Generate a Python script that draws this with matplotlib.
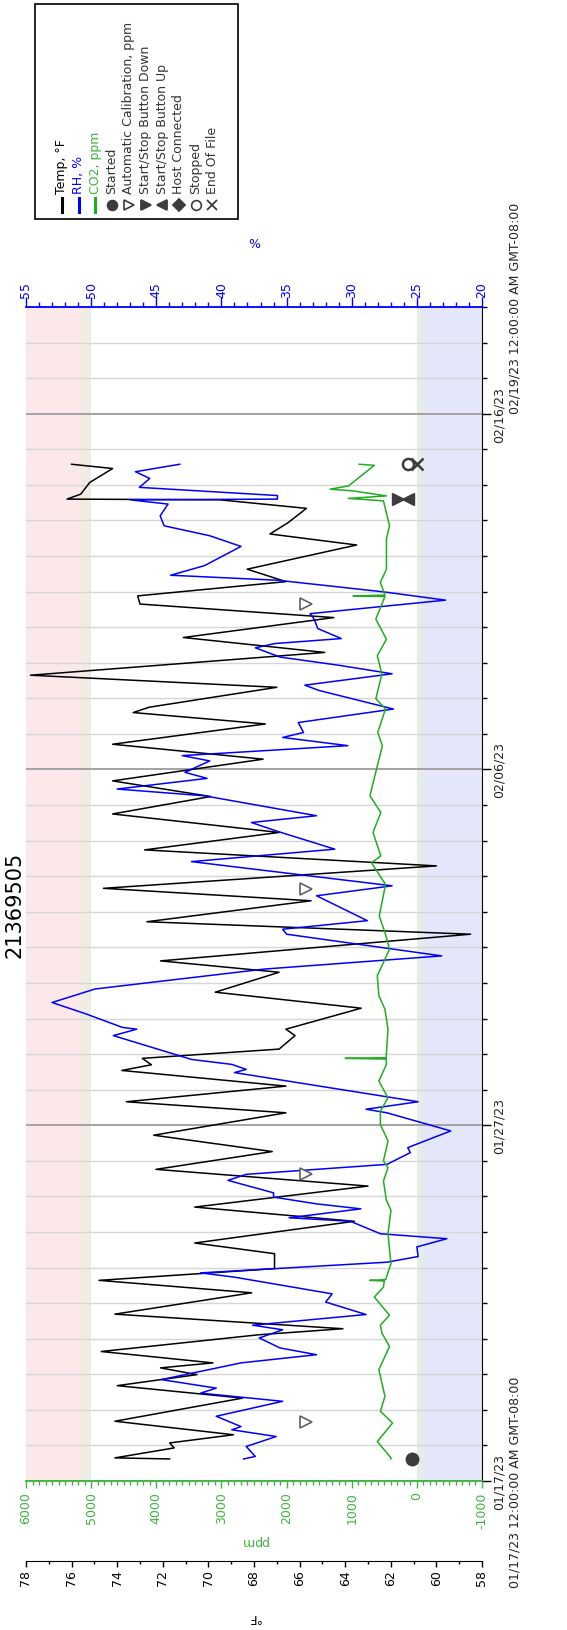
import datetime as dt
import matplotlib
matplotlib.use("Agg")
import matplotlib.pyplot as plt
import matplotlib.transforms as mtransforms
from matplotlib.lines import Line2D
from matplotlib.patches import Rectangle
from matplotlib.ticker import MultipleLocator

plt.rcParams["font.family"] = ["DejaVu Sans"]
plt.rcParams["axes.unicode_minus"] = False

# Logger 21369505 -- times are days after 01/17/23 00:00 (GMT-08:00)
START = dt.datetime(2023, 1, 17)
N_DAYS = 33
SERIAL = "21369505"

temp_days = [0.62, 0.65, 0.93, 1.07, 1.30, 1.68, 2.33, 2.68, 2.99, 3.18, 3.32, 3.64,
             4.11, 4.28, 4.69, 5.29, 5.64, 5.97, 6.39, 6.69, 7.30, 7.70, 7.94, 8.29,
             8.76, 9.26, 9.72, 10.35, 10.66, 11.10, 11.54, 11.70, 11.88, 12.14, 12.52,
             12.70, 13.29, 13.74, 14.30, 14.62, 15.37, 15.72, 16.31, 16.66, 17.29,
             17.74, 18.23, 18.75, 19.24, 19.68, 20.29, 20.71, 21.28, 21.60, 21.75,
             22.31, 22.65, 23.29, 23.71, 24.27, 24.65, 24.88, 25.28, 25.63, 26.31,
             26.62, 26.94, 27.34, 27.58, 27.60, 27.74, 28.07, 28.46, 28.58]
temp_f = [71.7, 74.1, 71.5, 71.7, 68.9, 74.1, 68.5, 74.0, 70.5, 72.1, 69.8, 74.7,
          67.8, 64.1, 74.1, 68.1, 74.8, 67.1, 67.1, 70.6, 63.6, 70.6, 67.5, 63.0,
          72.3, 67.2, 72.4, 66.6, 73.6, 66.6, 73.8, 72.5, 72.9, 66.9, 66.2,
          66.6, 63.3, 69.7, 66.9, 72.1, 58.5, 72.7, 65.5, 74.6, 60.0,
          72.8, 66.9, 74.2, 69.9, 74.2, 67.6, 74.2, 67.5, 73.3, 72.6,
          67.0, 77.8, 64.9, 71.1, 64.5, 73.0, 73.1, 66.6, 68.3, 63.5,
          67.3, 66.5, 65.7, 69.5, 76.2, 75.6, 75.2, 74.2, 76.0]

rh_days = [0.62, 0.69, 0.97, 1.25, 1.44, 1.53, 1.82, 2.24, 2.47, 2.61, 2.85, 3.32,
           3.55, 3.74, 4.02, 4.16, 4.25, 4.38, 4.68, 5.03, 5.26, 5.73, 5.85, 6.15,
           6.31, 6.58, 6.81, 6.95, 7.30, 7.40, 7.65, 7.79, 7.98, 8.10, 8.45, 8.62,
           8.90, 9.23, 9.37, 9.57, 9.84, 10.35, 10.45, 10.66, 11.48, 11.57, 11.71,
           11.85, 12.52, 12.70, 12.75, 13.13, 13.45, 13.83, 14.39, 14.58, 14.76,
           15.37, 15.51, 15.75, 16.45, 16.73, 17.41, 17.76, 18.25, 18.51, 18.70,
           19.26, 19.45, 19.75, 19.92, 20.24, 20.39, 20.67, 20.90, 21.04, 21.32,
           21.70, 22.22, 22.37, 22.69, 22.93, 23.16, 23.42, 23.54, 23.68, 23.96,
           24.24, 24.38, 24.76, 24.99, 25.32, 25.46, 25.73, 26.27, 26.57, 26.85,
           27.13, 27.46, 27.58, 27.60, 27.70, 27.93, 28.18, 28.37, 28.58]
rh_pct = [38.3, 37.4, 38.1, 35.8, 39.2, 38.5, 40.4, 35.3, 41.6, 40.4, 44.6, 38.5,
          32.7, 35.5, 37.1, 36.0, 35.3, 37.6, 28.9, 32.0, 31.5, 39.0, 41.6, 27.3,
          24.9, 25.0, 22.7, 27.8, 30.1, 34.8, 29.3, 32.7, 36.0, 36.0, 39.5, 38.1,
          27.3, 25.5, 25.7, 24.3, 22.4, 27.3, 28.9, 24.9, 39.0, 38.1, 39.2,
          42.3, 48.3, 46.5, 47.6, 50.4, 53.0, 49.7, 36.7, 29.7, 23.1,
          35.0, 35.3, 28.8, 32.7, 26.9, 42.3, 31.3, 35.6, 37.7, 32.7,
          41.3, 48.0, 41.1, 42.8, 40.9, 43.0, 30.3, 35.3, 33.7, 34.1,
          26.8, 32.5, 33.6, 26.9, 31.0, 35.5, 37.4, 35.9, 30.8, 32.6,
          32.9, 33.2, 22.8, 27.5, 35.7, 43.9, 41.3, 38.5, 40.9, 44.4,
          44.7, 44.1, 47.0, 35.7, 35.7, 46.3, 45.5, 46.6, 43.2]

co2_days = [0.62, 0.65, 1.11, 1.63, 1.96, 2.38, 3.13, 3.78, 4.16, 4.38, 4.66, 5.17,
            5.45, 5.62, 5.64, 5.66, 5.73, 6.11, 6.95, 7.61, 7.89, 8.43, 8.81, 9.00,
            9.56, 10.02, 10.40, 10.77, 11.24, 11.71, 11.86, 11.88, 11.90, 12.05,
            12.70, 13.26, 13.64, 14.20, 14.48, 14.95, 15.42, 15.88, 16.77, 17.38,
            17.57, 18.23, 18.79, 19.26, 20.67, 21.04, 21.70, 21.99, 22.68, 23.20,
            23.66, 24.23, 24.86, 24.88, 24.90, 25.26, 25.63, 26.48, 26.85, 27.55,
            27.62, 27.69, 27.83, 27.88, 27.97, 28.55, 28.58]
co2_ppm = [400, 397, 607, 373, 560, 490, 583, 420, 537, 560, 420, 653,
           513, 500, 723, 480, 467, 397, 443, 397, 467, 513, 443, 513,
           443, 560, 560, 443, 583, 467, 470, 1100, 470, 467,
           443, 490, 583, 607, 537, 420, 490, 577, 481, 697,
           553, 673, 553, 721, 529, 601, 481, 630, 537, 607,
           467, 630, 490, 980, 490, 560, 467, 467, 420, 513,
           1050, 467, 980, 1330, 1050, 653, 886]

# logger events (plotted against the ppm scale)
started_day, started_ppm = 0.62, 80
autocal_days = [1.65, 8.62, 16.64, 24.65]
autocal_ppm = [1700, 1700, 1700, 1700]
button_day = 27.6
button_down_ppm = 290
button_up_ppm = 140
stop_day = 28.58
stopped_ppm = 140
eof_ppm = 0

BLUE = "#0000ff"
GREEN = "#21ad21"
GREEN_AX = "#3cb43c"
MARK = "#3c3c3c"
PINK = (0.992, 0.910, 0.914)
TINT = (0.898, 0.941, 0.875)
LAV = (0.894, 0.902, 0.976)

W, H = 567, 1631
fig = plt.figure(figsize=(W / 100, H / 100), dpi=100)


def fx(px):
    return px / W


def fy(py):
    return 1 - py / H


x0, x1, y0, y1 = 26, 482, 308, 1482
ax = fig.add_axes([fx(x0), fy(y1), (x1 - x0) / W, (y1 - y0) / H])
ax.set_xlim(78, 58)
ax.set_ylim(0, N_DAYS)
ax_rh = ax.twiny()
ax_rh.set_xlim(55, 20)
ax_co2 = ax.twiny()
ax_co2.set_xlim(6000, -1000)

# RH alarm bands with a soft green edge
band_tr = mtransforms.blended_transform_factory(ax_rh.transData, ax.transAxes)


def mix(a, b, f):
    return tuple(a[i] + (b[i] - a[i]) * f for i in range(3))


ax.add_patch(Rectangle((51.2, 0), 55 - 51.2, 1, transform=band_tr, color=PINK, lw=0, zorder=0))
ax.add_patch(Rectangle((20, 0), 24.2 - 20, 1, transform=band_tr, color=LAV, lw=0, zorder=0))
steps = 6
for i in range(steps):
    f = (i + 0.5) / steps
    w = 1.2 / steps
    ax.add_patch(Rectangle((51.2 - (i + 1) * w, 0), w, 1, transform=band_tr,
                           color=mix(PINK, TINT, f), lw=0, zorder=0))
    w2 = 0.8 / steps
    ax.add_patch(Rectangle((24.2 + i * w2, 0), w2, 1, transform=band_tr,
                           color=mix(LAV, TINT, f), lw=0, zorder=0))

# time axis (vertical, on the right)
ax.yaxis.tick_right()
major_days = list(range(0, N_DAYS, 10))
ax.set_yticks(major_days, [(START + dt.timedelta(days=d)).strftime("%m/%d/%y") for d in major_days],
              rotation=90, va="center", fontsize=9, color="#222222")
ax.yaxis.set_minor_locator(MultipleLocator(1))
ax.tick_params(axis="y", which="major", length=6.5, width=1, pad=0.8)
ax.tick_params(axis="y", which="minor", length=3.6, width=1)
ax.grid(axis="y", which="minor", color="#d6d6d6", lw=1.0)
ax.grid(axis="y", which="major", color="#9c9c9c", lw=1.3)

end = START + dt.timedelta(days=N_DAYS)
for frac, when in [(0.0, START), (1.0, end)]:
    ax.text(1.0724, frac, when.strftime("%m/%d/%y %I:%M:%S %p") + " GMT-08:00",
            transform=ax.transAxes, rotation=90, ha="center", va="center",
            fontsize=9, color="#222222")

# temperature axis, offset below the plot
ax.set_xticks(range(58, 79, 2))
ax.xaxis.set_minor_locator(MultipleLocator(1))
ax.tick_params(axis="x", which="major", length=4.5, width=1, pad=1.5, labelrotation=90, labelsize=9)
ax.tick_params(axis="x", which="minor", length=2.5, width=1)
ax.spines["bottom"].set_position(("outward", 57.6))
for s in ["top", "left"]:
    ax.spines[s].set_visible(False)
ax.set_xlabel("°F", rotation=180, va="center", fontsize=9)
ax.xaxis.set_label_coords(0.5, -(1618 - y1) / (y1 - y0))

# RH axis on top
ax_rh.xaxis.set_major_locator(MultipleLocator(5))
ax_rh.xaxis.set_minor_locator(MultipleLocator(1))
ax_rh.tick_params(axis="x", which="major", length=7, width=1, pad=0, colors=BLUE,
                  labelrotation=90, labelsize=9)
ax_rh.tick_params(axis="x", which="minor", length=3.5, width=1, colors=BLUE)
for s in ["bottom", "left", "right"]:
    ax_rh.spines[s].set_visible(False)
ax_rh.spines["top"].set_color(BLUE)
ax_rh.spines["top"].set_linewidth(1.3)
ax_rh.set_xlabel("%", color=BLUE, va="center", fontsize=9)
ax_rh.xaxis.set_label_coords(0.5, (y1 - 245) / (y1 - y0))

# CO2 axis on the plot's bottom edge
ax_co2.xaxis.tick_bottom()
ax_co2.xaxis.set_label_position("bottom")
ax_co2.xaxis.set_major_locator(MultipleLocator(1000))
ax_co2.xaxis.set_minor_locator(MultipleLocator(100))
ax_co2.tick_params(axis="x", which="major", length=5, width=1, pad=2.5, colors=GREEN_AX,
                   labelrotation=90, labelsize=9)
ax_co2.tick_params(axis="x", which="minor", length=3, width=1, colors=GREEN_AX)
for s in ["top", "left", "right"]:
    ax_co2.spines[s].set_visible(False)
ax_co2.spines["bottom"].set_color(GREEN_AX)
ax_co2.spines["bottom"].set_linewidth(1.3)
ax_co2.set_xlabel("ppm", rotation=180, color=GREEN_AX, va="center", fontsize=9)
ax_co2.xaxis.set_label_coords(0.5, -(1542 - y1) / (y1 - y0))

# series
ax.plot(temp_f, temp_days, color="black", lw=1.1, zorder=3)
ax_rh.plot(rh_pct, rh_days, color=BLUE, lw=1.1, zorder=3)
ax_co2.plot(co2_ppm, co2_days, color=GREEN, lw=1.1, zorder=3)

# events
ax_co2.plot([started_ppm], [started_day], "o", ms=9, color=MARK, zorder=4)
ax_co2.plot(autocal_ppm, autocal_days, ">", ms=9, mfc="white", mec="#606060", mew=1.2, ls="none", zorder=4)
ax_co2.plot([button_down_ppm], [button_day], ">", ms=8, color=MARK, zorder=4)
ax_co2.plot([button_up_ppm], [button_day], "<", ms=8, color=MARK, zorder=4)
ax_co2.plot([stopped_ppm], [stop_day], "o", ms=8, mfc="none", mec=MARK, mew=1.8, zorder=4)
ax_co2.plot([eof_ppm], [stop_day], "x", ms=8, color=MARK, mew=1.8, zorder=4)

fig.text(fx(15), fy(905), SERIAL, rotation=90, ha="center", va="center", fontsize=15)

# legend, drawn rotated like the rest of the chart
fig.add_artist(Rectangle((fx(35), fy(220)), (238 - 35) / W, (220 - 5) / H,
                         transform=fig.transFigure, fill=False, ec="black", lw=1.2))
legend_items = [
    ("Temp, °F", "line", "black", "black"),
    ("RH, %", "line", BLUE, BLUE),
    ("CO2, ppm", "line", GREEN, GREEN_AX),
    ("Started", "o", MARK, "#333333"),
    ("Automatic Calibration, ppm", ">open", MARK, "#333333"),
    ("Start/Stop Button Down", ">", MARK, "#333333"),
    ("Start/Stop Button Up", "<", MARK, "#333333"),
    ("Host Connected", "D", MARK, "#333333"),
    ("Stopped", "oopen", MARK, "#333333"),
    ("End Of File", "x", MARK, "#333333"),
]
for i, (label, kind, col, tcol) in enumerate(legend_items):
    cx = 62 + 16.7 * i
    if kind == "line":
        fig.add_artist(Line2D([fx(cx), fx(cx)], [fy(213), fy(199)], color=col, lw=2.2,
                              transform=fig.transFigure))
    elif kind.endswith("open"):
        fig.add_artist(Line2D([fx(cx)], [fy(206)], marker=kind[0], ms=7, mfc="white", mec=col,
                              mew=1.2, transform=fig.transFigure))
    else:
        fig.add_artist(Line2D([fx(cx)], [fy(206)], marker=kind, ms=6 if kind == "D" else 7,
                              color=col, mew=1.3, transform=fig.transFigure))
    fig.text(fx(cx), fy(194), label, rotation=90, ha="center", va="bottom", fontsize=9, color=tcol)

fig.savefig("out.png", dpi=100)
